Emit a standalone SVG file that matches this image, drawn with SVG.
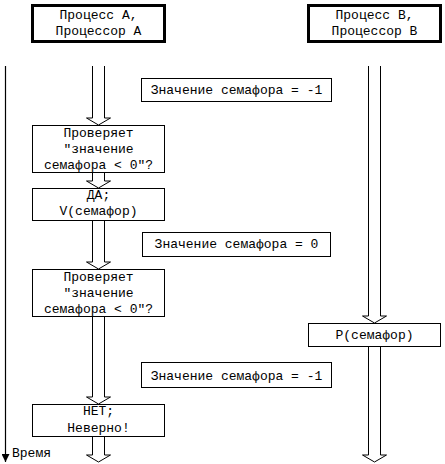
<svg xmlns="http://www.w3.org/2000/svg" width="445" height="464" viewBox="0 0 445 464">
<defs>
<style>
text{font-family:"Liberation Mono","DejaVu Sans Mono",monospace;font-size:13px;fill:#000;text-anchor:middle}
.hdr{fill:#fff;stroke:#000;stroke-width:3}
.box{fill:#fff;stroke:#000;stroke-width:1}
.arr{fill:#fff;stroke:#000;stroke-width:1;stroke-linejoin:miter}
.axis{stroke:#000;stroke-width:1.2;fill:none}
</style>
<marker id="ah" viewBox="0 0 10 10" refX="10" refY="5" markerWidth="8" markerHeight="8" markerUnits="userSpaceOnUse" orient="auto">
<path d="M0,0 L10,5 L0,10 z" fill="#000"/>
</marker>
</defs>
<rect width="445" height="464" fill="#fff"/>
<g id="connectors">
<line class="axis" x1="5.5" y1="66" x2="5.5" y2="462" marker-end="url(#ah)"/>
<polyline class="arr" points="92.5,66 92.5,118 86.5,118 98.5,125 110.5,118 104.5,118 104.5,66"/>
<polyline class="arr" points="92.5,173 92.5,181 86.5,181 98.5,188 110.5,181 104.5,181 104.5,173"/>
<polyline class="arr" points="92.5,221 92.5,262 86.5,262 98.5,269 110.5,262 104.5,262 104.5,221"/>
<polyline class="arr" points="92.5,317 92.5,397 86.5,397 98.5,404 110.5,397 104.5,397 104.5,317"/>
<polyline class="arr" points="92.5,437 92.5,455 86.5,455 98.5,462 110.5,455 104.5,455 104.5,437"/>
<polyline class="arr" points="368.5,66 368.5,316 362.5,316 374.5,323 386.5,316 380.5,316 380.5,66"/>
<polyline class="arr" points="368.5,347 368.5,455 362.5,455 374.5,462 386.5,455 380.5,455 380.5,347"/>
</g>
<g id="time-label"><text x="12" y="457" style="text-anchor:start">Время</text></g>
<g id="headerA">
<rect class="hdr" x="32.5" y="5.5" width="132" height="36"/>
<text x="98.5" y="19">Процесс А,</text>
<text x="98.5" y="35">Процессор А</text>
</g>
<g id="headerB">
<rect class="hdr" x="308.5" y="5.5" width="132" height="36"/>
<text x="374.5" y="19">Процесс В,</text>
<text x="374.5" y="35">Процессор В</text>
</g>
<g id="val1">
<rect class="box" x="141.5" y="78.5" width="190" height="23"/>
<text x="236.5" y="94">Значение семафора = -1</text>
</g>
<g id="check1">
<rect class="box" x="32.5" y="125.5" width="132" height="47"/>
<text x="98.5" y="137">Проверяет</text>
<text x="98.5" y="153">"значение</text>
<text x="98.5" y="169">семафора &lt; 0"?</text>
</g>
<g id="yes">
<rect class="box" x="32.5" y="188.5" width="132" height="32"/>
<text x="98.5" y="199">ДА;</text>
<text x="98.5" y="215">V(семафор)</text>
</g>
<g id="val2">
<rect class="box" x="142.5" y="232.5" width="188" height="24"/>
<text x="236.5" y="248">Значение семафора = 0</text>
</g>
<g id="check2">
<rect class="box" x="32.5" y="269.5" width="132" height="47"/>
<text x="98.5" y="281">Проверяет</text>
<text x="98.5" y="297">"значение</text>
<text x="98.5" y="313">семафора &lt; 0"?</text>
</g>
<g id="pB">
<rect class="box" x="308.5" y="323.5" width="132" height="23"/>
<text x="374.5" y="339">P(семафор)</text>
</g>
<g id="val3">
<rect class="box" x="141.5" y="362.5" width="190" height="25"/>
<text x="236.5" y="380">Значение семафора = -1</text>
</g>
<g id="no">
<rect class="box" x="32.5" y="404.5" width="132" height="32"/>
<text x="98.5" y="415">НЕТ;</text>
<text x="98.5" y="432">Неверно!</text>
</g>
</svg>
